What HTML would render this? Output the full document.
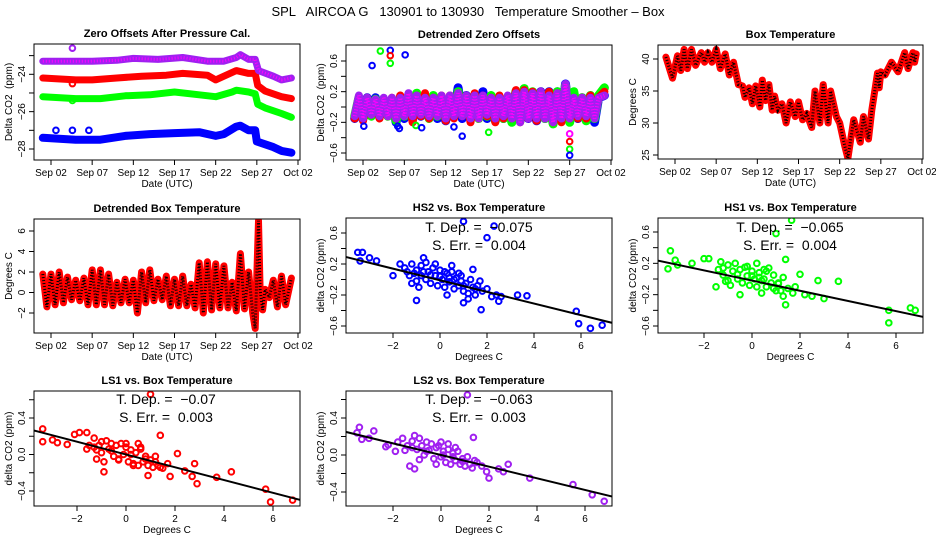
<!DOCTYPE html>
<html><head><meta charset="utf-8"><style>
html,body{margin:0;padding:0;background:#fff;}
svg{display:block;font-family:"Liberation Sans",Arial,sans-serif;}
svg text{white-space:pre;}
</style></head><body>
<svg id="c" width="936" height="540" viewBox="0 0 936 540">
<text x="468" y="16" text-anchor="middle" font-size="13" xml:space="preserve">SPL   AIRCOA G   130901 to 130930   Temperature Smoother – Box</text>
</svg>
<script>
// ---------- data ----------
const zoDays = {
  purple:[-1,2,5,8,10,13,16,19,21,22.5,23,24,24.8,25.2,27,28,29.2],
  red:[-1,3,5,8,11,14,16,19,20,21,22.5,24,24.8,25.1,26,28,29.2],
  green:[-1,3,6,9,12,15,18,20,22,22.5,24,24.8,25.1,26,28,29.2],
  blue:[-1,3,6,9,12,15,18,20,21,22.5,23,24,24.8,25,27,28,29.2]
};
const zoPurple=[-23.3,-23.3,-23.3,-23.25,-23.15,-23.2,-23.1,-23.3,-23.3,-23.1,-22.95,-23.2,-23.2,-23.8,-24.1,-24.3,-24.2];
const zoRed=[-24.2,-24.3,-24.3,-24.2,-24.1,-24.05,-23.95,-24.05,-24.3,-24.1,-23.8,-23.95,-23.95,-24.6,-24.9,-25.2,-25.3];
const zoGreen=[-25.2,-25.3,-25.3,-25.15,-25.1,-24.95,-25.1,-25.2,-24.95,-24.85,-24.95,-25.05,-25.6,-25.8,-26.1,-26.3];
const zoBlue=[-27.4,-27.5,-27.5,-27.3,-27.2,-27.15,-27.1,-27.3,-27.2,-26.8,-26.75,-27.0,-27.0,-27.6,-27.9,-28.1,-28.2];
const zoOutX=[0.6,2.6,4.6,2.6,2.6,2.6];
const zoOutY=[-27.0,-27.0,-27.0,-22.6,-25.4,-24.5];
const zoOutC=['#0000ff','#0000ff','#0000ff','#a020f0','#00ff00','#ff0000'];

const dzDays=[-1,-0.5,0,0.5,1,1.5,2,2.5,3,3.5,4,4.5,5,5.5,6,6.5,7,7.5,8,8.5,9,9.5,10,10.5,11,11.5,12,12.5,13,13.5,14,14.5,15,15.5,16,16.5,17,17.5,18,18.5,19,19.5,20,20.5,21,21.5,22,22.5,23,23.5,24,24.5,25,25.5,26,26.5,27,27.5,28,28.5,29.2];
const dzRed=[-0.15,0.1,-0.18,0.12,-0.1,0.08,-0.15,0.1,-0.12,0.12,-0.15,0.15,-0.1,0.15,-0.2,0.15,-0.12,0.18,-0.15,0.12,-0.1,0.15,-0.18,0.15,-0.15,0.18,-0.12,0.15,-0.2,0.18,-0.15,0.15,-0.12,0.12,-0.2,0.15,-0.15,0.12,-0.15,0.22,-0.2,0.22,-0.15,0.2,-0.18,0.2,-0.15,0.2,-0.2,0.18,-0.2,0.2,-0.15,0.1,-0.15,0.12,-0.15,0.15,-0.12,0.12,0.2];
const dzGreen=[-0.12,0.12,-0.15,0.1,-0.12,0.1,-0.1,0.08,-0.12,0.1,-0.18,0.12,-0.12,0.12,-0.15,0.18,-0.1,0.12,-0.15,0.15,-0.12,0.12,-0.15,0.12,-0.12,0.2,-0.1,0.12,-0.15,0.15,-0.15,0.12,-0.12,0.15,-0.18,0.12,-0.15,0.12,-0.2,0.2,-0.18,0.24,-0.12,0.2,-0.15,0.18,-0.15,0.18,-0.22,0.2,-0.15,0.28,-0.2,0.2,-0.12,0.12,-0.18,0.15,-0.15,0.15,0.25];
const dzBlue=[-0.15,0.1,-0.12,0.12,-0.1,0.12,-0.12,0.1,-0.1,0.1,-0.2,0.12,-0.15,0.15,-0.12,0.15,-0.12,0.12,-0.12,0.12,-0.15,0.1,-0.18,0.12,-0.12,0.25,-0.15,0.15,-0.12,0.15,-0.12,0.2,-0.15,0.12,-0.15,0.12,-0.15,0.12,-0.18,0.2,-0.15,0.2,-0.15,0.15,-0.18,0.2,-0.15,0.2,-0.2,0.2,-0.18,0.3,-0.15,0.12,-0.15,0.12,-0.12,0.12,-0.2,0.12,0.15];
const dzPurple=[-0.12,0.15,-0.15,0.12,-0.1,0.1,-0.12,0.12,-0.12,0.12,-0.15,0.12,-0.12,0.18,-0.12,0.15,-0.1,0.12,-0.12,0.12,-0.12,0.15,-0.15,0.15,-0.12,0.18,-0.12,0.15,-0.15,0.15,-0.15,0.15,-0.1,0.12,-0.15,0.12,-0.12,0.15,-0.15,0.18,-0.2,0.2,-0.15,0.18,-0.15,0.2,-0.15,0.15,-0.2,0.18,-0.15,0.3,-0.15,0.12,-0.12,0.12,-0.12,0.12,-0.15,0.12,0.15];
const dzOutX=[1.1,2.1,3.3,3.3,3.3,5.1,0.1,4.2,4.4,6.4,7.1,11,12,15.2,25,25,25,25];
const dzOutY=[0.54,0.73,0.74,0.67,0.57,0.68,-0.25,-0.25,-0.28,-0.24,-0.27,-0.26,-0.38,-0.33,-0.35,-0.45,-0.55,-0.63];
const dzOutC=['#0000ff','#00ff00','#0000ff','#ff0000','#00ff00','#0000ff','#0000ff','#0000ff','#0000ff','#00ff00','#0000ff','#0000ff','#0000ff','#00ff00','#ff00ff','#ff0000','#00ff00','#0000ff'];

const btDays=[-1.1,-0.3,0.3,0.7,1.1,1.5,2.0,2.5,3.2,3.6,4.0,4.5,5.0,5.5,6.1,6.6,7.1,7.7,8.2,8.5,9.0,9.4,9.8,10.3,10.6,11.0,11.4,11.8,12.1,12.5,13.0,13.5,14.0,14.6,15.0,15.5,16.0,16.6,17.0,17.6,18.0,18.6,18.9,19.6,20.0,20.6,21.0,21.7,22.5,22.9,23.5,23.9,24.6,24.8,25.0,25.5,26.3,27.1,27.9,28.3,28.9,29.1,29.3];
const btVals=[40.3,37,40.5,38.2,41.5,38.5,41.5,39,41,39.5,41,39.5,41.5,38.5,40.8,37.5,39.5,36,35.8,34,35.5,33,35.8,32.5,36.7,33.5,36,32,34.2,32,33,30,33.3,31,33.3,30.5,31.5,29.3,35,30,36,30,35,31,30,26.5,24.5,30.5,27,31,27.5,32,37.8,35.5,38,37.5,39.5,38,41,38.5,41,39.5,40.8];

const dbDays=[-1,-0.5,0,0.5,1,1.5,2,2.5,3,3.5,4,4.5,5,5.5,6,6.5,7,7.5,8,8.5,9,9.5,10,10.5,11,11.5,12,12.5,13,13.5,14,14.5,15,15.5,16,16.5,17,17.5,18,18.5,19,19.5,20,20.5,21,21.5,22,22.5,23,23.5,24,24.5,24.8,25.2,25.4,25.7,26,26.5,27,27.5,28,28.5,29.2];
const dbVals=[1.8,-1.4,1.8,-1.2,2.0,-1.0,1.5,-0.7,1.2,-0.8,1.4,-1.2,2.2,-1.2,2.2,-1.2,1.8,-1.3,1.0,-1.0,1.3,-1.0,1.2,-2.0,2.0,-1.0,2.2,-0.8,1.3,-0.7,1.6,-1.3,1.3,-1.3,1.6,-1.3,0.8,-1.5,2.9,-2.0,3.0,-1.7,2.8,-1.5,2.6,-1.5,1.0,-1.8,3.8,-1.6,2.0,-2.0,-3.5,7.0,0.3,-1.7,0.3,-0.5,1.2,-1.4,1.6,-1.2,1.4];

const hs2X=[-3.5,-3.3,-3.4,-3.0,-2.7,-2.0,-1.0,1.0,2.3,2.0,1.4,3.3,3.7,5.8,5.9,6.4,6.9,1.75,2.5,1.0,-0.7,-1.7,-1.5,-1.3,-1.2,-1.0,-1.0,-0.8,-0.8,-0.6,-0.6,-0.5,-0.4,-0.3,-0.2,-0.1,0,0.1,0.2,0.3,0.4,0.5,0.6,0.7,0.8,0.9,1.0,1.1,1.2,1.3,1.4,1.5,1.6,1.8,2.0,2.2,2.4,2.6,-0.9,0.3,-1.2,0.5,1.2,-1.4,-0.2,0.8,1.7,-0.4,0.0,0.4,-0.7,0.9,1.5,-1.1,0.2,0.6,1.0];
const hs2Y=[0.35,0.35,0.24,0.28,0.24,0.05,-0.27,0.75,0.69,0.54,0.13,-0.2,-0.21,-0.41,-0.57,-0.63,-0.59,-0.39,-0.28,-0.3,0.28,0.2,0.15,0.05,0.2,0.12,-0.02,0.18,0.05,0.22,0.0,0.1,-0.05,0.15,0.05,-0.08,0.12,0.0,-0.1,0.08,-0.03,0.1,-0.12,0.02,-0.08,0.05,-0.15,-0.05,-0.18,0.0,-0.1,-0.2,-0.08,-0.15,-0.12,-0.22,-0.2,-0.22,-0.1,-0.2,-0.05,0.18,-0.25,0.1,0.2,0.08,-0.02,0.06,0.04,0.02,0.1,-0.02,-0.12,0.08,0.1,0.0,-0.08];
const hs2Fit=[-0.075,-0.01];
const hs1X=[-3.4,-3.5,-3.2,-3.1,-2.5,-2.0,-1.8,-1.5,1.65,1.0,1.4,2.0,2.75,3.6,3.0,2.2,2.5,1.4,-0.5,5.7,5.7,6.6,6.8,0.2,-1.3,-1.4,-1.2,-1.0,-1.0,-0.8,-0.7,-0.6,-0.5,-0.4,-0.3,-0.2,-0.1,0,0.1,0.2,0.3,0.4,0.5,0.6,0.7,0.8,0.9,1.0,1.1,1.2,1.3,1.5,1.7,1.8,-0.9,0.4,-1.1,0.6,1.3,-0.2,0.9,-0.6,0.0,0.5,1.1,-1.2,0.3];
const hs1Y=[0.36,0.13,0.24,0.18,0.2,0.26,0.26,-0.1,0.75,0.58,0.25,0.06,-0.02,-0.03,-0.25,-0.2,-0.22,-0.33,-0.2,-0.4,-0.56,-0.37,-0.4,0.2,0.22,0.12,0.05,0.18,-0.02,0.1,0.2,0.0,0.12,-0.05,0.15,0.04,-0.08,0.1,0.0,-0.1,0.08,-0.02,0.12,-0.1,0.14,-0.05,0.05,-0.15,-0.05,-0.15,0.02,-0.12,-0.18,-0.1,-0.08,-0.18,-0.03,0.1,-0.22,0.16,-0.12,0.06,0.04,0.0,-0.06,0.14,0.02];
const hs1Fit=[-0.065,-0.02];
const ls1X=[-3.4,-3.4,-3.0,-2.8,-2.4,-2.1,-1.9,-1.6,1.0,1.4,2.1,2.8,2.7,3.7,4.3,2.9,5.7,5.9,6.8,-0.9,-1.2,0.9,1.8,2.4,0.5,-1.5,-1.3,-1.2,-1.0,-1.0,-0.8,-0.7,-0.6,-0.5,-0.4,-0.3,-0.2,-0.1,0,0.1,0.2,0.3,0.4,0.5,0.6,0.7,0.8,0.9,1.0,1.1,1.2,1.3,1.5,1.7,-0.9,0.3,-1.1,0.6,1.4,-0.3,-1.6,0.0,-0.6,0.2,0.8,-1.3,1.2];
const ls1Y=[0.28,0.14,0.16,0.13,0.11,0.22,0.24,0.24,0.66,0.21,0.01,-0.1,-0.24,-0.25,-0.19,-0.32,-0.38,-0.52,-0.5,-0.19,-0.05,-0.23,-0.24,-0.18,0.12,0.1,0.18,0.05,0.14,0.02,0.15,0.06,0.12,-0.02,0.1,-0.06,0.12,0.0,0.08,-0.08,0.05,-0.1,0.02,-0.12,0.06,-0.08,-0.02,-0.12,-0.06,-0.14,-0.02,-0.12,-0.15,-0.1,-0.08,-0.12,0.1,0.08,-0.14,-0.05,0.06,0.12,0.04,0.0,-0.05,0.08,-0.08];
const ls1Fit=[-0.07,0.0];
const ls2X=[-3.4,-3.5,-3.3,-3.0,-2.8,-2.3,-2.2,-1.9,1.1,1.35,2.8,2.6,3.7,5.5,6.3,6.8,-1.3,-1.1,2.0,2.4,-1.1,-1.6,-1.4,-1.2,-1.0,-0.9,-0.8,-0.7,-0.6,-0.5,-0.4,-0.3,-0.2,-0.1,0,0.1,0.2,0.3,0.4,0.5,0.6,0.7,0.8,0.9,1.0,1.1,1.2,1.3,1.5,1.7,1.9,-0.9,0.3,-1.5,0.6,1.4,-0.2,0.0,-1.8,-0.6,0.1,0.9,-1.2,0.5];
const ls2Y=[0.3,0.24,0.17,0.18,0.26,0.09,0.11,0.04,0.65,0.19,-0.1,-0.18,-0.25,-0.32,-0.43,-0.5,-0.12,-0.15,-0.25,-0.15,0.21,0.18,0.1,0.15,0.06,0.18,0.1,0.0,0.14,0.05,0.12,-0.04,0.08,0.1,-0.02,0.04,-0.08,0.06,-0.1,0.02,-0.06,0.04,-0.1,-0.04,-0.12,-0.02,-0.1,-0.14,-0.08,-0.12,-0.18,-0.05,0.12,0.05,0.08,-0.06,-0.1,0.14,0.14,0.04,0.0,-0.07,0.08,-0.02];
const ls2Fit=[-0.063,0.0];

const dateTickDays=[0,5,10,15,20,25,30];
const dateTickLabels=['Sep 02','Sep 07','Sep 12','Sep 17','Sep 22','Sep 27','Oct 02'];
const tempTicks=[-2,0,2,4,6];

// ---------- helpers ----------
const NS='http://www.w3.org/2000/svg';
const svg=document.getElementById('c');
function mk(tag,attrs,parent){const e=document.createElementNS(NS,tag);for(const k in attrs)e.setAttribute(k,attrs[k]);(parent||svg).appendChild(e);return e;}
function lin(v0,p0,v1,p1){return v=>p0+(v-v0)*(p1-p0)/(v1-v0);}

function panel(cfg){
  const g=mk('g',{});
  
  
  const [L,T,R,B]=cfg.box;
  const X=lin(cfg.xc[0],cfg.xc[1],cfg.xc[2],cfg.xc[3]);
  const Y=lin(cfg.yc[0],cfg.yc[1],cfg.yc[2],cfg.yc[3]);
  const t=mk('text',{x:(L+R)/2,y:T-7,'text-anchor':'middle','font-size':'11','font-weight':'bold'},g);
  t.textContent=cfg.title;
  
  
  const xa=mk('g',{},g);
  
  
  cfg.xt.forEach((v,i)=>{
    const px=X(v);
    mk('line',{x1:px,y1:B,x2:px,y2:B+5,stroke:'#000','stroke-width':1},xa);
    const tl=mk('text',{x:px,y:B+16,'text-anchor':'middle','font-size':'10'},xa);
    tl.textContent=cfg.xl[i];
    
    
  });
  const xtl=mk('text',{x:(L+R)/2,y:B+27,'text-anchor':'middle','font-size':'10'},g);
  xtl.textContent=cfg.xTitle;
  
  
  const ya=mk('g',{},g);
  
  
  cfg.yt.forEach((v,i)=>{
    const py=Y(v);
    mk('line',{x1:L-5,y1:py,x2:L,y2:py,stroke:'#000','stroke-width':1},ya);
    if(cfg.yl[i]!==''){
      const tl=mk('text',{x:0,y:0,'text-anchor':'middle','font-size':'10',transform:`translate(${L-9},${py}) rotate(-90)`},ya);
      tl.textContent=cfg.yl[i];
      
      
    }
  });
  const ytl=mk('text',{x:0,y:0,'text-anchor':'middle','font-size':'10',transform:`translate(${L-22},${(T+B)/2}) rotate(-90)`},g);
  ytl.textContent=cfg.yTitle;
  
  
  const cid='clip'+cfg.name;
  const cp=mk('clipPath',{id:cid},g);
  mk('rect',{x:L,y:T,width:R-L,height:B-T},cp);
  const plot=mk('g',{'clip-path':`url(#${cid})`},g);
  
  
  cfg.draw(plot,X,Y);
  const fr=mk('rect',{x:L,y:T,width:R-L,height:B-T,fill:'none',stroke:'#000','stroke-width':1},g);
  
  
  return g;
}
function band(p,X,Y,xs,ys,color,w,name,overlay){
  const pts=xs.map((d,i)=>X(d).toFixed(1)+','+Y(ys[i]).toFixed(1)).join(' ');
  const l=mk('polyline',{points:pts,fill:'none',stroke:color,'stroke-width':w,'stroke-linejoin':'round','stroke-linecap':'round'},p);
  
  
  if(overlay){
    const o=mk('polyline',{points:pts,fill:'none',stroke:overlay,'stroke-width':Math.max(1,w-4),'stroke-dasharray':'1 2'},p);
    
    
  }
}
function pts(p,X,Y,xs,ys,colors,name){
  xs.forEach((v,i)=>{
    const c=mk('circle',{cx:X(v),cy:Y(ys[i]),r:2.8,fill:'none',stroke:Array.isArray(colors)?colors[i]:colors,'stroke-width':2},p);
    
    
  });
}
function fitLine(p,X,Y,fit){
  const x0=-10,x1=10;
  const l=mk('line',{x1:X(x0),y1:Y(fit[0]*x0+fit[1]),x2:X(x1),y2:Y(fit[0]*x1+fit[1]),stroke:'#000','stroke-width':2},p);
  
  
}
function annot(g,cx,y1,dep,err){
  const a=mk('text',{x:cx,y:y1,'text-anchor':'middle','font-size':'14'},g);
  a.textContent='T. Dep. =  '+dep;
  
  
  const b=mk('text',{x:cx,y:y1+18,'text-anchor':'middle','font-size':'14'},g);
  b.textContent='S. Err. =  '+err;
  
  
}

// ---------- panels ----------
panel({name:'zero-offsets-panel',title:'Zero Offsets After Pressure Cal.',box:[34,44,300,160],
  xc:[0,51,30,298],yc:[-24,74.3,-28,149],xt:dateTickDays,xl:dateTickLabels,
  yt:[-23,-24,-25,-26,-27,-28],yl:['','−24','','−26','','−28'],xTitle:'Date (UTC)',yTitle:'Delta CO2  (ppm)',
  draw:(p,X,Y)=>{
    band(p,X,Y,zoDays.blue,zoBlue,'#0000ff',8,'series-hs2');
    band(p,X,Y,zoDays.green,zoGreen,'#00ff00',7,'series-hs1');
    band(p,X,Y,zoDays.red,zoRed,'#ff0000',7,'series-ls1');
    band(p,X,Y,zoDays.purple,zoPurple,'#a020f0',7,'series-ls2','#ff00ff');
    pts(p,X,Y,zoOutX,zoOutY,zoOutC,'outlier-point');
  }});
panel({name:'detrended-zero-offsets-panel',title:'Detrended Zero Offsets',box:[346,45,612,160],
  xc:[0,363,30,611],yc:[0.6,61,-0.6,153],xt:dateTickDays,xl:dateTickLabels,
  yt:[0.6,0.4,0.2,0,-0.2,-0.4,-0.6],yl:['0.6','','0.2','','−0.2','','−0.6'],xTitle:'Date (UTC)',yTitle:'Delta CO2  (ppm)',
  draw:(p,X,Y)=>{
    band(p,X,Y,dzDays,dzBlue,'#0000ff',9,'series-hs2');
    band(p,X,Y,dzDays,dzGreen,'#00ff00',9,'series-hs1');
    band(p,X,Y,dzDays,dzRed,'#ff0000',8,'series-ls1');
    band(p,X,Y,dzDays,dzPurple,'#a020f0',8,'series-ls2','#ff00ff');
    pts(p,X,Y,dzOutX,dzOutY,dzOutC,'outlier-point');
  }});
panel({name:'box-temperature-panel',title:'Box Temperature',box:[658,45,923,159],
  xc:[0,675,30,922],yc:[40,59,25,155],xt:dateTickDays,xl:dateTickLabels,
  yt:[25,30,35,40],yl:['25','30','35','40'],xTitle:'Date (UTC)',yTitle:'Degrees C',
  draw:(p,X,Y)=>{band(p,X,Y,btDays,btVals,'#ff0000',7,'box-temp-series','#000');}});
panel({name:'detrended-box-temp-panel',title:'Detrended Box Temperature',box:[34,219,300,333],
  xc:[0,51,30,298],yc:[6,231,-2,313],xt:dateTickDays,xl:dateTickLabels,
  yt:tempTicks,yl:['−2','0','2','4','6'],xTitle:'Date (UTC)',yTitle:'Degrees C',
  draw:(p,X,Y)=>{band(p,X,Y,dbDays,dbVals,'#ff0000',7,'detrended-temp-series','#000');}});

const sxT=[-2,0,2,4,6], sxL=['−2','0','2','4','6'];
const g5=panel({name:'hs2-vs-temp-panel',title:'HS2 vs. Box Temperature',box:[346,218,612,333],
  xc:[0,440,2,487],yc:[0.6,233,-0.6,326],xt:sxT,xl:sxL,
  yt:[0.6,0.4,0.2,0,-0.2,-0.4,-0.6],yl:['0.6','','0.2','','−0.2','','−0.6'],xTitle:'Degrees C',yTitle:'delta CO2 (ppm)',
  draw:(p,X,Y)=>{pts(p,X,Y,hs2X,hs2Y,'#0000ff','hs2-point');fitLine(p,X,Y,hs2Fit);}});
annot(g5,479,232,'−0.075','0.004');
const g6=panel({name:'hs1-vs-temp-panel',title:'HS1 vs. Box Temperature',box:[658,218,923,333],
  xc:[0,752,2,800],yc:[0.6,232,-0.6,326],xt:sxT,xl:sxL,
  yt:[0.6,0.4,0.2,0,-0.2,-0.4,-0.6],yl:['0.6','','0.2','','−0.2','','−0.6'],xTitle:'Degrees C',yTitle:'delta CO2 (ppm)',
  draw:(p,X,Y)=>{pts(p,X,Y,hs1X,hs1Y,'#00ff00','hs1-point');fitLine(p,X,Y,hs1Fit);}});
annot(g6,790,232,'−0.065','0.004');
const g7=panel({name:'ls1-vs-temp-panel',title:'LS1 vs. Box Temperature',box:[34,391,300,506],
  xc:[0,126,2,175],yc:[0.4,418,-0.4,491],xt:sxT,xl:sxL,
  yt:[0.6,0.4,0.2,0,-0.2,-0.4],yl:['','0.4','','0.0','','−0.4'],xTitle:'Degrees C',yTitle:'delta CO2 (ppm)',
  draw:(p,X,Y)=>{pts(p,X,Y,ls1X,ls1Y,'#ff0000','ls1-point');fitLine(p,X,Y,ls1Fit);}});
annot(g7,166,404,'−0.07','0.003');
const g8=panel({name:'ls2-vs-temp-panel',title:'LS2 vs. Box Temperature',box:[346,391,612,506],
  xc:[0,441,2,489],yc:[0.4,418,-0.4,492],xt:sxT,xl:sxL,
  yt:[0.6,0.4,0.2,0,-0.2,-0.4],yl:['','0.4','','0.0','','−0.4'],xTitle:'Degrees C',yTitle:'delta CO2 (ppm)',
  draw:(p,X,Y)=>{pts(p,X,Y,ls2X,ls2Y,'#a020f0','ls2-point');fitLine(p,X,Y,ls2Fit);}});
annot(g8,479,404,'−0.063','0.003');
</script>
</body></html>
